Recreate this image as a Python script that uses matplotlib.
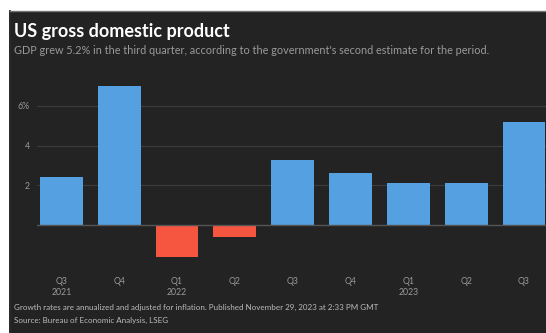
import numpy as np
import matplotlib.pyplot as plt
from matplotlib.patches import Rectangle

quarters = ["Q3\n2021", "Q4", "Q1\n2022", "Q2", "Q3", "Q4", "Q1\n2023", "Q2", "Q3"]
growth = [2.4, 7.0, -1.6, -0.6, 3.3, 2.6, 2.1, 2.1, 5.2]
ytick_vals = [2, 4, 6]
ytick_labels = ["2", "4", "6%"]

bg = "#232323"
blue = "#54a0e0"
red = "#f65640"

W, H = 546, 333
plt.rcParams['font.family'] = ['Lato', 'DejaVu Sans']
fig = plt.figure(figsize=(W / 100, H / 100), dpi=100, facecolor="white")
# dark panel (screenshot look, white strip on top and left)
fig.patches.append(Rectangle((11 / W, 0), 1, 1 - 12 / H, transform=fig.transFigure,
                             facecolor=bg, edgecolor="none", zorder=-5))
fig.add_artist(plt.Line2D([10 / W, 10 / W], [0, 1 - 11 / H], color="black", lw=1.2))
fig.add_artist(plt.Line2D([10 / W, 1], [1 - 11 / H, 1 - 11 / H], color="#777777", lw=1))

fig.text(14 / W, 1 - 31 / H, "US gross domestic product", color="white",
         fontsize=13, fontweight="bold", va="center", ha="left")
fig.text(14 / W, 1 - 50 / H,
         "GDP grew 5.2% in the third quarter, according to the government's second estimate for the period.",
         color="#9a9a9a", fontsize=7.8, va="center", ha="left")

ax = fig.add_axes([37 / W, 1 - 265 / H, (W - 37) / W, 185 / H])
ax.set_zorder(2)
ax.set_facecolor(bg)
x = np.arange(len(growth))
colors = [blue if v >= 0 else red for v in growth]
ax.bar(x, growth, width=0.74, color=colors, zorder=3)
ax.axhline(0, color="#555555", lw=1, zorder=4)
for v in ytick_vals:
    ax.axhline(v, color="#3d3d3d", lw=0.8, zorder=1)

ax.set_xlim(-0.42, 8.38)
ax.set_ylim(-2.0, 7.3)
ax.set_yticks(ytick_vals)
ax.set_yticklabels(ytick_labels)
ax.set_xticks(x)
ax.set_xticklabels(quarters)
ax.tick_params(axis="y", length=0, pad=5, labelsize=6.3, labelcolor="#9a9a9a")
ax.tick_params(axis="x", length=0, pad=9, labelsize=6.3, labelcolor="#9a9a9a")
for s in ax.spines.values():
    s.set_visible(False)

fig.text(14 / W, 1 - 307 / H,
         "Growth rates are annualized and adjusted for inflation. Published November 29, 2023 at 2:33 PM GMT",
         color="#bbbbbb", fontsize=5.8, va="center", ha="left")
fig.text(14 / W, 1 - 320 / H, "Source: Bureau of Economic Analysis, LSEG",
         color="#bbbbbb", fontsize=5.8, va="center", ha="left")

plt.savefig("out.png", dpi=100, facecolor=fig.get_facecolor())
